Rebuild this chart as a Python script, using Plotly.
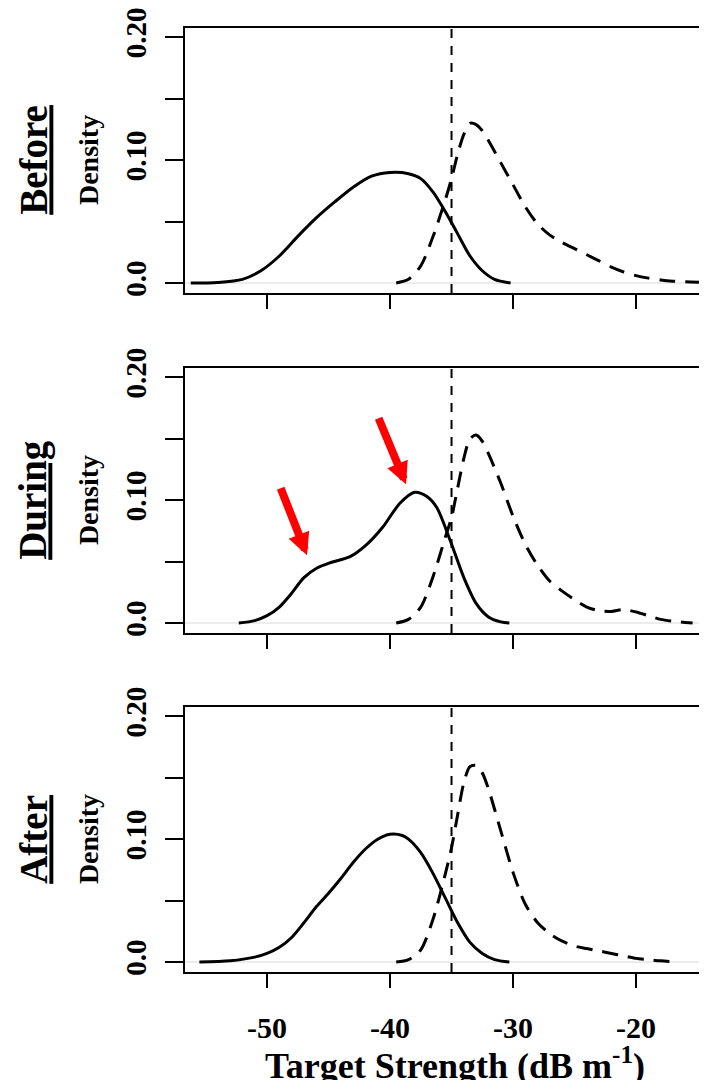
import plotly.graph_objects as go

FONT = "Liberation Serif, Times New Roman, serif"

PANELS = ["Before", "During", "After"]
X_TICKS = [-50, -40, -30, -20]
X_TICK_TEXT = ["-50", "-40", "-30", "-20"]
Y_TICKS = [0, 0.05, 0.10, 0.15, 0.20]
Y_TICK_TEXT = ["0.0", "", "0.10", "", "0.20"]
THRESHOLD = -35
X_RANGE = [-56.67, -14.23]
Y_RANGE = [-0.0081, 0.2076]

# Before
before_solid_x = [-56.2, -54, -52, -50.5, -49, -47.5, -46, -44.5, -43, -41.5, -40, -38.5, -37.5,
                  -36.5, -35.5, -34.5, -33.5, -32.5, -31.5, -30.2]
before_solid_y = [0.0, 0.0005, 0.003, 0.010, 0.022, 0.038, 0.053, 0.066, 0.078, 0.087, 0.090, 0.089,
                  0.085, 0.074, 0.058, 0.040, 0.022, 0.010, 0.003, 0.0]
before_dash_x = [-39.5, -38.5, -37.5, -36.5, -35.5, -35, -34.5, -34, -33.5, -33, -32.5, -32, -31, -30,
                 -29, -28, -27, -26, -25, -24, -23, -22, -21, -20, -19, -18, -17, -16, -14]
before_dash_y = [0.0, 0.003, 0.014, 0.038, 0.068, 0.085, 0.105, 0.121, 0.130, 0.129, 0.124, 0.116,
                 0.098, 0.080, 0.062, 0.048, 0.039, 0.033, 0.028, 0.023, 0.018, 0.013, 0.009, 0.006,
                 0.004, 0.0025, 0.0015, 0.001, 0.0005]

# During
during_solid_x = [-52.3, -51, -50, -49, -48.1, -47, -45.9, -44.9, -43.25, -42, -40.6, -39.2, -38,
                  -37, -36.2, -35.1, -34, -33, -32, -31, -30.3]
during_solid_y = [0.0, 0.002, 0.006, 0.013, 0.023, 0.037, 0.045, 0.049, 0.054, 0.063, 0.078, 0.0975,
                  0.1065, 0.103, 0.094, 0.067, 0.037, 0.016, 0.005, 0.001, 0.0]
during_dash_x = [-39.5, -38.5, -37.5, -36.5, -35.5, -35, -34.5, -34, -33.5, -33, -32.5, -32, -31, -30,
                 -29, -28, -27, -26, -25, -24, -23, -22, -21, -20, -19, -18, -17, -16, -15.4]
during_dash_y = [0.0, 0.003, 0.013, 0.038, 0.070, 0.086, 0.110, 0.134, 0.150, 0.153, 0.148, 0.138,
                 0.114, 0.087, 0.064, 0.047, 0.034, 0.026, 0.019, 0.013, 0.010, 0.0095, 0.011, 0.009,
                 0.006, 0.003, 0.0015, 0.0005, 0.0]

# After
after_solid_x = [-55.5, -53, -51, -50, -49, -48, -47, -46, -45, -44, -43, -42, -41, -40, -39, -38.5,
                 -37.5, -36.5, -35.5, -34.5, -33.5, -32.5, -31.5, -30.3]
after_solid_y = [0.0, 0.001, 0.004, 0.007, 0.012, 0.020, 0.032, 0.045, 0.056, 0.068, 0.081, 0.092,
                 0.100, 0.104, 0.103, 0.100, 0.089, 0.072, 0.052, 0.032, 0.016, 0.007, 0.002, 0.0]
after_dash_x = [-39.5, -38.5, -37.5, -36.5, -35.5, -35, -34.5, -34, -33.5, -33, -32.5, -32, -31, -30,
                -29, -28, -27, -26, -25, -24, -23, -22, -21, -20, -19, -18, -16.5]
after_dash_y = [0.0, 0.002, 0.010, 0.035, 0.072, 0.093, 0.120, 0.146, 0.159, 0.160, 0.154, 0.141,
                0.107, 0.073, 0.047, 0.032, 0.023, 0.017, 0.013, 0.011, 0.009, 0.007, 0.005, 0.003,
                0.002, 0.001, 0.0]

SOLID = [(before_solid_x, before_solid_y), (during_solid_x, during_solid_y), (after_solid_x, after_solid_y)]
DASHED = [(before_dash_x, before_dash_y), (during_dash_x, during_dash_y), (after_dash_x, after_dash_y)]

# red arrows in "During" panel
arrow_tail_x = [-48.94, -40.98]
arrow_tail_y = [0.111, 0.168]
arrow_tip_x = [-46.75, -38.70]
arrow_tip_y = [0.0553, 0.113]

DOMAINS = [[0.7193, 1.0], [0.3591, 0.6398], [0.0, 0.2807]]

fig = go.Figure()

for i in range(3):
    n = "" if i == 0 else str(i + 1)
    xr, yr = "x" + n, "y" + n
    sx, sy = SOLID[i]
    dx, dy = DASHED[i]
    fig.add_trace(go.Scatter(x=sx, y=sy, mode="lines", xaxis=xr, yaxis=yr,
                             line=dict(color="black", width=3, shape="spline", smoothing=0.8),
                             showlegend=False, hoverinfo="skip"))
    fig.add_trace(go.Scatter(x=dx, y=dy, mode="lines", xaxis=xr, yaxis=yr,
                             line=dict(color="black", width=3, dash="16px,10px", shape="spline", smoothing=0.8),
                             showlegend=False, hoverinfo="skip"))
    fig.add_shape(type="line", xref=xr + " domain", yref=yr, x0=0, x1=1, y0=0, y1=0,
                  line=dict(color="#e6e6e6", width=1.5), layer="below")
    fig.add_shape(type="line", xref=xr, yref=yr + " domain", x0=THRESHOLD, x1=THRESHOLD, y0=0, y1=1,
                  line=dict(color="black", width=2, dash="9px,8px"))

    xa = dict(domain=[0, 1], range=X_RANGE, anchor=yr, showline=True, linecolor="black", linewidth=2,
              mirror=True, ticks="outside", ticklen=14, tickwidth=2, tickcolor="black",
              tickvals=X_TICKS, ticktext=X_TICK_TEXT, showticklabels=(i == 2),
              tickfont=dict(family=FONT, size=30, color="black", weight="bold"),
              ticklabelstandoff=14, ticklabeloverflow="allow",
              showgrid=False, zeroline=False, fixedrange=True, automargin=False)
    ya = dict(domain=DOMAINS[i], range=Y_RANGE, anchor=xr, showline=True, linecolor="black", linewidth=2,
              ticks="outside", ticklen=18, tickwidth=2, tickcolor="black",
              tickvals=Y_TICKS, ticktext=Y_TICK_TEXT, tickangle=-90,
              tickfont=dict(family=FONT, size=29, color="black", weight="bold"),
              ticklabelstandoff=7, ticklabeloverflow="allow",
              showgrid=False, zeroline=False, fixedrange=True, automargin=False)
    fig.update_layout(**{"xaxis" + n: xa, "yaxis" + n: ya})

    fig.add_annotation(text="Density", xref="paper", yref=yr, x=-0.186, y=0.10, textangle=-90,
                       showarrow=False, xanchor="center", yanchor="middle",
                       font=dict(family=FONT, size=28, color="black", weight="bold"))
    fig.add_annotation(text="<u>" + PANELS[i] + "</u>", xref="paper", yref=yr, x=-0.29, y=0.10,
                       textangle=-90, showarrow=False, xanchor="center", yanchor="middle",
                       font=dict(family=FONT, size=39, color="black", weight="bold"))

for k in range(len(arrow_tip_x)):
    fig.add_annotation(x=arrow_tip_x[k], y=arrow_tip_y[k], ax=arrow_tail_x[k], ay=arrow_tail_y[k],
                       xref="x2", yref="y2", axref="x2", ayref="y2", text="", showarrow=True,
                       arrowhead=2, arrowsize=0.55, arrowwidth=8, arrowcolor="#ff0000", standoff=0)

fig.add_annotation(text="Target Strength (dB m<sup>-1</sup>)", xref="paper", yref="paper",
                   x=0.517, y=-0.071, xanchor="center", yanchor="top", showarrow=False,
                   font=dict(family=FONT, size=36, color="black", weight="bold"))

# the page body has an 8px default margin, so the figure is shrunk by 8px to fit the window
fig.update_layout(width=699, height=1072, margin=dict(l=177, r=0, t=20, b=108),
                  paper_bgcolor="white", plot_bgcolor="white", showlegend=False)

fig.write_html("out.html")
